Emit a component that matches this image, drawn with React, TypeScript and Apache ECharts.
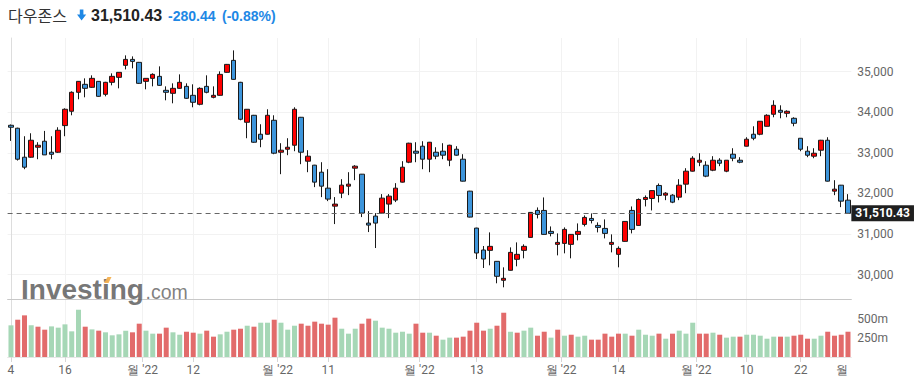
import React, { useEffect, useRef } from "react";
import * as echarts from "echarts";

// ---- Data (Dow Jones daily, Mar 4 – Aug 31 2022) ----
const openP = [
  33680, 33607, 32893, 32893, 33139, 33287, 33016, 33016, 33672, 34025,
  34492, 34689, 34615, 34762, 34443, 34738, 34861, 35156, 35303, 35230,
  34762, 34836, 34885, 34541, 34467, 34590, 34639, 34418, 34197, 34639,
  34369, 34418, 34984, 35279, 34738, 33754, 33926, 33459, 33459, 33803,
  33016, 33090, 33188, 33877, 32795, 32697, 32524, 32131, 31688, 32008,
  32180, 32623, 32475, 31270, 31443, 31516, 31738, 31836, 32279, 32770,
  33041, 33164, 32844, 33016, 33041, 32820, 33090, 32844, 32057, 31147,
  30607, 30598, 30328, 29861, 30107, 30377, 30598, 30918, 31582, 31582,
  31066, 30746, 30770, 30746, 30992, 31238, 31385, 31213, 31139, 30746,
  30500, 30820, 31582, 31213, 31852, 31877, 32197, 31958, 31958, 31909,
  32229, 32549, 32770, 32696, 32573, 32819, 32549, 32967, 32819, 33164,
  33459, 33459, 33655, 33951, 34049, 33975, 33852, 33360, 33041, 32918,
  33065, 33311, 32057, 32204, 31835,
];
const highP = [
  33700, 33620, 33410, 33483, 33262, 33541, 33410, 33631, 34098, 34516,
  34770, 34836, 34910, 34770, 34750, 34959, 34990, 35402, 35377, 35240,
  34840, 34960, 35131, 34639, 34713, 34934, 34713, 34689, 34615, 34910,
  34639, 35008, 35190, 35525, 34750, 34080, 33935, 33705, 34074, 33926,
  33238, 33361, 34123, 33885, 33066, 32705, 32770, 32598, 31910, 32352,
  32524, 32697, 32480, 31565, 31516, 31984, 31984, 32254, 32795, 33250,
  33262, 33287, 33270, 33139, 33238, 33200, 33164, 32967, 32065, 31155,
  30705, 31041, 30335, 30180, 30672, 30795, 30746, 31540, 31656, 31902,
  31188, 31016, 31164, 31000, 31262, 31459, 31508, 31287, 31361, 30992,
  30697, 31320, 31680, 31877, 31951, 32080, 32246, 32032, 31983, 32352,
  32622, 32918, 32991, 32794, 32918, 32868, 32819, 33114, 32893, 33385,
  33655, 33785, 33951, 34295, 34172, 34049, 33877, 33365, 33164, 33114,
  33320, 33385, 32327, 32210, 31983,
];
const lowP = [
  33295, 32811, 32598, 32880, 32844, 32950, 32844, 33000, 33410, 33926,
  34320, 34369, 34600, 34380, 34393, 34664, 34590, 35057, 35082, 34700,
  34566, 34639, 34650, 34295, 34221, 34580, 34330, 34123, 34172, 34467,
  34344, 34410, 34975, 34800, 33803, 33361, 33250, 33139, 33450, 32967,
  32475, 32943, 33041, 32721, 32524, 32156, 31910, 31811, 31246, 31885,
  31959, 32328, 31418, 31049, 30656, 31510, 31393, 31787, 32270, 32746,
  32770, 32598, 32524, 32844, 32844, 32672, 32930, 32295, 31410, 30385,
  30164, 30230, 29787, 29688, 30100, 30205, 30402, 30910, 31385, 30985,
  30943, 30475, 30525, 30402, 30844, 31188, 31262, 31041, 30893, 30549,
  30180, 30810, 31016, 31205, 31680, 31582, 31779, 31835, 31761, 31835,
  32007, 32540, 32672, 32401, 32549, 32672, 32524, 32794, 32745, 33160,
  33311, 33434, 33650, 33877, 33852, 33877, 33655, 33041, 32893, 32868,
  32918, 32295, 31958, 31663, 31500,
];
const closeP = [
  33631, 32844, 32647, 33311, 33188, 32950, 32965, 33557, 34074, 34492,
  34762, 34590, 34836, 34393, 34738, 34885, 34984, 35303, 35254, 34713,
  34836, 34934, 34664, 34492, 34590, 34738, 34344, 34246, 34590, 34492,
  34418, 34934, 35180, 34811, 33828, 34074, 33262, 33336, 33926, 32992,
  33066, 33139, 34074, 33016, 32918, 32279, 32180, 31861, 31738, 32205,
  32229, 32672, 31516, 31221, 31270, 31885, 31934, 32131, 32647, 33238,
  32992, 32844, 33262, 32918, 32943, 33188, 32943, 32303, 31418, 30533,
  30385, 30697, 29959, 29910, 30549, 30500, 30697, 31533, 31484, 30992,
  31016, 30795, 31115, 30992, 31066, 31410, 31336, 31164, 31016, 30795,
  30647, 31311, 31115, 31852, 31902, 32070, 31951, 32007, 31786, 32204,
  32549, 32868, 32819, 32426, 32819, 32745, 32819, 32868, 32770, 33336,
  33360, 33779, 33926, 34172, 34000, 34025, 33729, 33090, 32942, 32991,
  33311, 32303, 32106, 31811, 31510.43,
];
// volume in millions
const volume = [
  422, 497, 555, 422, 404, 364, 408, 391, 435, 342,
  630, 404, 368, 351, 329, 289, 302, 351, 329, 444,
  351, 311, 311, 391, 329, 297, 337, 324, 311, 351,
  271, 302, 337, 364, 377, 417, 404, 457, 457, 497,
  457, 364, 417, 444, 417, 471, 444, 431, 524, 377,
  311, 377, 444, 511, 484, 391, 377, 324, 337, 311,
  444, 324, 324, 284, 231, 258, 258, 271, 351, 457,
  351, 377, 417, 590, 337, 324, 351, 391, 284, 337,
  258, 364, 284, 297, 271, 284, 231, 231, 311, 271,
  311, 311, 284, 364, 297, 284, 311, 244, 311, 351,
  311, 457, 311, 311, 324, 297, 258, 271, 271, 297,
  297, 284, 244, 271, 271, 271, 284, 297, 244, 244,
  284, 337, 284, 297, 337,
];
// U = close above previous close (green volume), D = below (red volume)
const volumeDir =
  "UDDUDDUUUU" + "UDUDUUUUDD" + "UUDDUUDDUD" + "DUUDDUDUUD" +
  "UUUDDDDDDU" + "UUDDUUUUUU" + "DDUDUUDDDD" + "DUDDUDUUDD" +
  "UDUDUUDDDD" + "DUDUUUDUDU" + "UUDDUDUUDU" + "UUUUDUDDDU" + "UDDDD";

const xTickPos = [0, 8, 19.5, 27, 39.5, 47, 60.5, 69, 81.5, 90, 101.5, 109, 117];
const xLabelPos = [...xTickPos, 123.1];
const xLabels = ["4", "16", "월 '22", "12", "월 '22", "11", "월 '22", "13", "월 '22", "14", "월 '22", "10", "22", "월"];
const priceTicks = [30000, 31000, 32000, 33000, 34000, 35000];
const volumeTicks = [250, 500];

const titleName = "다우존스";
const lastPriceText = "31,510.43";
const changeText = "-280.44";
const changePctText = "(-0.88%)";

const UP = "#ff0000";
const DOWN = "#3d95db";
const BLUE_TXT = "#1e88e5";
const VOL_UP = "#a6d7b6";
const VOL_DOWN = "#e26b6b";
const AX_FONT = "Roboto, 'Liberation Sans', Arial, sans-serif";

export default function App() {
  const ref = useRef<HTMLDivElement>(null);

  useEffect(() => {
    if (!ref.current) return;
    const chart = echarts.init(ref.current, undefined, { renderer: "svg" });
    const n = closeP.length;
    const lastClose = closeP[n - 1];
    const candleData = closeP.map((c, i) => [i, openP[i], c, lowP[i], highP[i]]);
    const volData = volume.map((v, i) => ({
      value: [i, v],
      itemStyle: { color: volumeDir[i] === "U" ? VOL_UP : VOL_DOWN },
    }));

    const gridLeft = 7.6;
    const gridWidth = 843.75;

    chart.setOption({
      animation: false,
      backgroundColor: "#ffffff",
      grid: [
        { left: gridLeft, width: gridWidth, top: 38, height: 261 },
        { left: gridLeft, width: gridWidth, top: 299, height: 58 },
      ],
      xAxis: [
        {
          type: "value",
          gridIndex: 0,
          min: -0.5,
          max: n - 0.5,
          axisLine: { show: true, onZero: false, lineStyle: { color: "#c8c8c8", width: 1 } },
          axisTick: { show: false, customValues: xTickPos },
          axisLabel: { show: false },
          splitLine: { show: true, lineStyle: { color: "#f2f2f2", width: 1 } },
        },
        {
          type: "value",
          gridIndex: 1,
          min: -0.5,
          max: n - 0.5,
          axisLine: { show: true, onZero: false, lineStyle: { color: "#e6e6e6", width: 1 } },
          axisTick: { show: true, customValues: xTickPos, length: 5, lineStyle: { color: "#d6d6d6" } },
          axisLabel: {
            show: true,
            customValues: xLabelPos,
            formatter: (v: number) => {
              const k = xLabelPos.findIndex((p) => Math.abs(p - v) < 1e-6);
              return k >= 0 ? xLabels[k] : "";
            },
            color: "#666666",
            fontSize: 12,
            fontFamily: AX_FONT,
            margin: 7,
            showMinLabel: true,
            showMaxLabel: true,
            hideOverlap: false,
          },
          splitLine: { show: true, lineStyle: { color: "#f2f2f2", width: 1 } },
        },
      ],
      yAxis: [
        {
          type: "value",
          gridIndex: 0,
          position: "right",
          min: 29400,
          max: 35830,
          axisLine: { show: true, lineStyle: { color: "#dddddd" } },
          axisTick: { show: false, customValues: priceTicks },
          axisLabel: {
            customValues: priceTicks,
            formatter: (v: number) => v.toLocaleString("en-US"),
            color: "#666666",
            fontSize: 12,
            fontFamily: AX_FONT,
            margin: 6,
          },
          splitLine: { show: true, lineStyle: { color: "#f2f2f2", width: 1 } },
        },
        {
          type: "value",
          gridIndex: 1,
          position: "right",
          min: 0,
          max: 773,
          axisLine: { show: true, lineStyle: { color: "#dddddd" } },
          axisTick: { show: false, customValues: volumeTicks },
          axisLabel: {
            customValues: volumeTicks,
            formatter: (v: number) => `${v}m`,
            color: "#666666",
            fontSize: 12,
            fontFamily: AX_FONT,
            margin: 6,
          },
          splitLine: { show: false },
        },
      ],
      series: [
        {
          type: "bar",
          xAxisIndex: 1,
          yAxisIndex: 1,
          data: volData,
          barWidth: 5,
          silent: true,
        },
        {
          type: "candlestick",
          xAxisIndex: 0,
          yAxisIndex: 0,
          data: candleData,
          barWidth: 5,
          silent: true,
          itemStyle: {
            color: UP,
            color0: DOWN,
            borderColor: "#1a1a1a",
            borderColor0: "#1a1a1a",
            borderWidth: 1,
          },
          markLine: {
            silent: true,
            symbol: ["none", "none"],
            data: [{ yAxis: lastClose }],
            lineStyle: { color: "#666666", type: [5, 4], width: 1 },
            label: {
              show: true,
              position: "end",
              distance: 0,
              formatter: () =>
                lastClose.toLocaleString("en-US", { minimumFractionDigits: 2, maximumFractionDigits: 2 }),
              backgroundColor: "#1f1f1f",
              color: "#ffffff",
              fontWeight: "bold",
              fontSize: 12,
              fontFamily: AX_FONT,
              padding: [2, 4, 2, 4],
            },
          },
        },
      ],
      graphic: [
        {
          type: "text",
          x: 8,
          y: 15,
          style: {
            text: titleName,
            font: "16px 'Noto Sans CJK KR', sans-serif",
            fill: "#333333",
            verticalAlign: "middle",
          },
        },
        {
          type: "polygon",
          shape: {
            points: [
              [79.8, 9.5], [83.4, 9.5], [83.4, 14.5], [86.2, 14.5],
              [81.6, 20.5], [77, 14.5], [79.8, 14.5],
            ],
          },
          style: { fill: BLUE_TXT },
        },
        {
          type: "text",
          x: 91,
          y: 15,
          style: {
            text: lastPriceText,
            font: "bold 16px 'Liberation Sans', Arial, sans-serif",
            fill: "#222222",
            verticalAlign: "middle",
          },
        },
        {
          type: "text",
          x: 168,
          y: 15.5,
          style: {
            text: changeText,
            font: "bold 14px 'Liberation Sans', Arial, sans-serif",
            fill: BLUE_TXT,
            verticalAlign: "middle",
          },
        },
        {
          type: "text",
          x: 222,
          y: 15.5,
          style: {
            text: changePctText,
            font: "bold 14px 'Liberation Sans', Arial, sans-serif",
            fill: BLUE_TXT,
            verticalAlign: "middle",
          },
        },
        {
          type: "text",
          x: 21,
          y: 289,
          z: 100,
          style: {
            text: "Investing",
            font: "bold 28px 'Liberation Sans', Arial, sans-serif",
            fill: "#5e5e5e",
            opacity: 0.85,
            verticalAlign: "middle",
          },
        },
        {
          type: "text",
          x: 145.5,
          y: 292,
          z: 100,
          style: {
            text: ".com",
            font: "19.5px 'Liberation Sans', Arial, sans-serif",
            fill: "#6a6a6a",
            opacity: 0.85,
            verticalAlign: "middle",
          },
        },
        {
          type: "polygon",
          z: 101,
          shape: { points: [[104, 283], [107.5, 277], [111.5, 277], [108.5, 283]] },
          style: { fill: "#f4b04f", opacity: 0.95 },
        },
      ],
    });

    return () => chart.dispose();
  }, []);

  return (
    <div
      ref={ref}
      style={{ position: "fixed", left: 0, top: 0, width: 918, height: 384, background: "#fff" }}
    />
  );
}
